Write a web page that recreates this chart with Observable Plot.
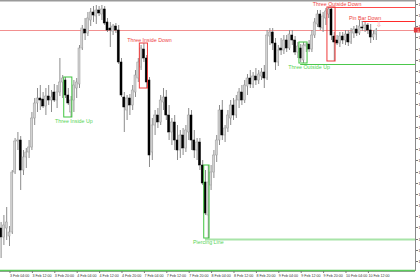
<!DOCTYPE html>
<html><head><meta charset="utf-8">
<script src="https://cdn.jsdelivr.net/npm/d3@7"></script>
<script src="https://cdn.jsdelivr.net/npm/@observablehq/plot@0.6"></script>
<style>html,body{margin:0;padding:0;background:#fff;overflow:hidden}svg{display:block}</style>
</head><body><div id="chart"></div>
<script>
// EUR/USD H1 candles, prices × 10^4
const open  = [13672,13663,13672,13664,13668,13728,13759,13760,13730,13743,13748,13753,13782,13797,13802,13801,13794,13804,13800,13808,13800,13808,13818,13820,13805,13788,13800,13812,13816,13852,13871,13867,13880,13888,13884,13890,13886,13891,13878,13872,13869,13874,13870,13838,13803,13790,13802,13795,13808,13822,13833,13851,13842,13820,13748,13775,13785,13778,13798,13803,13785,13768,13778,13760,13750,13765,13752,13768,13785,13760,13750,13758,13735,13718,13685,13715,13728,13745,13760,13790,13765,13772,13782,13795,13785,13800,13808,13800,13814,13822,13816,13824,13820,13824,13828,13822,13864,13868,13857,13838,13852,13850,13860,13852,13865,13860,13848,13852,13840,13854,13856,13851,13865,13876,13886,13872,13882,13886,13891,13864,13860,13857,13864,13860,13866,13858,13867,13871,13867,13873,13872,13875,13870,13863,13866];
const high  = [13678,13685,13693,13674,13730,13762,13768,13764,13750,13752,13760,13788,13802,13812,13815,13808,13812,13815,13810,13816,13815,13842,13825,13823,13812,13804,13820,13822,13855,13875,13882,13888,13892,13894,13895,13894,13895,13894,13882,13878,13876,13877,13875,13842,13808,13805,13806,13815,13830,13842,13855,13857,13845,13823,13782,13790,13792,13805,13812,13810,13795,13782,13785,13775,13770,13772,13775,13792,13790,13770,13762,13762,13740,13730,13735,13735,13750,13765,13795,13800,13775,13790,13800,13802,13805,13812,13815,13820,13826,13830,13828,13832,13830,13832,13835,13870,13872,13872,13862,13855,13862,13865,13865,13870,13870,13864,13858,13856,13858,13857,13860,13870,13882,13890,13890,13888,13892,13893,13893,13868,13865,13868,13868,13870,13870,13872,13874,13875,13880,13879,13878,13877,13876,13870,13872];
const low   = [13642,13655,13660,13654,13666,13726,13750,13710,13725,13732,13742,13750,13775,13788,13790,13792,13785,13795,13788,13798,13792,13804,13802,13802,13795,13783,13788,13802,13812,13850,13860,13864,13874,13878,13876,13884,13880,13875,13868,13853,13865,13867,13836,13803,13768,13780,13785,13790,13803,13818,13830,13838,13812,13733,13740,13765,13772,13775,13790,13780,13760,13755,13750,13740,13742,13745,13748,13760,13750,13742,13740,13730,13715,13685,13662,13710,13722,13738,13755,13760,13758,13768,13775,13780,13782,13792,13795,13797,13805,13812,13812,13815,13816,13820,13812,13820,13855,13850,13830,13834,13845,13846,13848,13850,13855,13845,13842,13838,13837,13848,13848,13848,13862,13873,13870,13868,13875,13882,13860,13839,13855,13853,13856,13855,13854,13856,13862,13864,13865,13869,13868,13866,13857,13860,13860];
const close = [13663,13675,13678,13668,13728,13759,13760,13730,13743,13748,13753,13782,13797,13802,13800,13794,13804,13800,13803,13800,13808,13818,13822,13805,13797,13800,13815,13818,13852,13872,13867,13882,13888,13885,13890,13887,13891,13877,13870,13870,13874,13870,13838,13805,13793,13802,13795,13810,13825,13838,13852,13842,13818,13745,13775,13785,13778,13800,13803,13785,13768,13778,13760,13750,13765,13752,13770,13785,13760,13750,13758,13735,13717,13687,13718,13728,13745,13760,13790,13765,13772,13785,13795,13785,13800,13808,13800,13815,13822,13816,13824,13820,13826,13828,13822,13865,13868,13857,13838,13850,13850,13860,13852,13866,13860,13848,13854,13842,13855,13856,13851,13865,13878,13886,13873,13884,13889,13891,13865,13858,13857,13864,13860,13866,13858,13868,13871,13867,13874,13872,13875,13870,13863,13866,13870];

// time axis labels (bar index of each label)
const timeLabelBars = [3,11,19,27,35,43,51,59,67,75,83,91,99,107,115,123,131];
const timeLabels = ["3 Feb 04:00","3 Feb 12:00","3 Feb 20:00","4 Feb 04:00","4 Feb 12:00","4 Feb 20:00","7 Feb 04:00","7 Feb 12:00","7 Feb 20:00","8 Feb 04:00","8 Feb 12:00","8 Feb 20:00","9 Feb 04:00","9 Feb 12:00","9 Feb 20:00","10 Feb 04:00","10 Feb 12:00"];
// price axis ticks
const priceTicks = [13896,13885,13874,13863,13851,13840,13829,13818,13807,13796,13784,13773,13762,13751,13740,13728,13717,13706,13695,13684,13673,13661,13650,13639];

// detected patterns
const patternNames = ["Three Inside Up","Three Inside Down","Piercing Line","Three Outside Up","Three Outside Down","Pin Bar Down"];
const patternStart = [23,50,73,107,117,129];
const patternEnd   = [25,52,74,109,119,129];
const patternDir   = ["up","down","up","up","down","down"];
const patternLabelBar = [26,53,74,110,120,130];
const supportLevel = 13630;

const RED = "#f03a3a", GREEN = "#3fc43f";
const boxed = new Set(["Three Inside Up","Three Inside Down","Piercing Line","Three Outside Up","Three Outside Down"]);
const lineStyle = {
  "Piercing Line": {stroke:"#a8e4a8", w:2},
  "Three Outside Up": {stroke:"#4cc84c", w:1},
  "Three Outside Down": {stroke:"#ff4a4a", w:1},
  "Pin Bar Down": {stroke:"#ff2a2a", w:1}
};

const candles = open.map((o,i)=>({i, o, h:high[i], l:low[i], c:close[i], up:close[i]>=o}));
const pats = patternNames.map((name,k)=>{
  const hs = high.slice(patternStart[k], patternEnd[k]+1), ls = low.slice(patternStart[k], patternEnd[k]+1);
  return {name, s:patternStart[k], e:patternEnd[k], dir:patternDir[k], hi:d3.max(hs), lo:d3.min(ls), lb:patternLabelBar[k]};
});
const lines = pats.filter(p=>lineStyle[p.name]).map(p=>({...p, lvl: p.dir==="up"?p.lo-1:p.hi, st:lineStyle[p.name]}));
const last = candles[candles.length-1];
const pin = pats.find(p=>p.name==="Pin Bar Down");
const labelMap = new Map(timeLabelBars.map((b,k)=>[b,timeLabels[k]]));
const XMAX = 148;
const font = "Liberation Sans, Arial, sans-serif";

const chart = Plot.plot({
  width: 420, height: 280,
  marginTop: 0, marginBottom: 9, marginLeft: 0, marginRight: 5,
  x: {type:"linear", domain:[-0.214, XMAX], axis:null},
  y: {domain:[13629, 13900], axis:null},
  style: {background:"#fff", fontFamily: font},
  marks: [
    Plot.ruleY([13900], {stroke:"#9a9a9a", strokeWidth:2}),
    Plot.ruleY([13629], {stroke:"#9a9a9a", strokeWidth:1}),
    Plot.ruleX([XMAX], {stroke:"#8a8a8a", strokeWidth:1}),
    Plot.ruleY([supportLevel], {stroke:"#5ccc5c", strokeWidth:1.5}),
    Plot.ruleY([last.c], {stroke:"#f29090", strokeWidth:1}),
    // pattern level lines
    ...lines.map(l=>Plot.ruleY([l], {y:"lvl", x1:"s", x2:()=>XMAX, stroke:l.st.stroke, strokeWidth:l.st.w})),
    // candles
    Plot.ruleX(candles, {x:"i", y1:"l", y2:"h", stroke:"#8c8c8c", strokeWidth:1}),
    Plot.rect(candles, {
      x1:d=>d.i-0.36, x2:d=>d.i+0.36,
      y1:d=>Math.min(d.o,d.c)-(d.o===d.c?0.5:0), y2:d=>Math.max(d.o,d.c)+(d.o===d.c?0.5:0),
      fill:d=>d.up?"#d2d2d2":"#000", stroke:d=>d.up?"#9a9a9a":"#000", strokeWidth:0.5
    }),
    // pattern boxes
    Plot.rect(pats.filter(p=>boxed.has(p.name)), {
      x1:d=>d.s-0.45, x2:d=>d.e+0.45, y1:"lo", y2:"hi",
      fill:"none", stroke:d=>d.dir==="up"?GREEN:RED, strokeWidth:1
    }),
    // pattern labels
    Plot.text(pats.filter(p=>p.dir==="up"), {x:"lb", y:"lo", text:"name", fill:"#55d455", fontSize:5.3, lineAnchor:"top", dy:2, fontFamily:font}),
    Plot.text(pats.filter(p=>p.dir==="down"), {x:"lb", y:"hi", text:"name", fill:"#ee4444", fontSize:5.3, lineAnchor:"bottom", dy:-2, fontFamily:font}),
    // pin bar arrow
    Plot.text([pin], {x:()=>last.i+0.9, y:"hi", text:()=>"⇩", fill:"#f39a9a", fontSize:7.5, lineAnchor:"top", dy:0, fontFamily:"DejaVu Sans"}),
    // price axis
    Plot.axisY({anchor:"right", ticks:priceTicks, tickFormat:d=>(d/10000).toFixed(4), tickSize:2, tickPadding:1, fontSize:3.6, fill:"#333", stroke:"#777", fontFamily:font}),
    // current price label
    Plot.rect([last], {x1:()=>XMAX-0.4, x2:()=>XMAX+2, y1:d=>d.c-2.5, y2:d=>d.c+2.5, fill:"#e23a3a"}),
    Plot.text([last], {x:()=>XMAX+0.6, y:"c", text:d=>(d.c/10000).toFixed(4), fill:"#fff", fontSize:3.6, textAnchor:"start", fontFamily:font}),
    // time axis
    Plot.axisX({anchor:"bottom", ticks:timeLabelBars, tickFormat:d=>labelMap.get(d), tickSize:2, tickPadding:0.5, textAnchor:"start", dx:0.5, fontSize:3.6, fill:"#333", stroke:"#777", fontFamily:font})
  ]
});
document.getElementById("chart").appendChild(chart);
</script>
</body></html>
